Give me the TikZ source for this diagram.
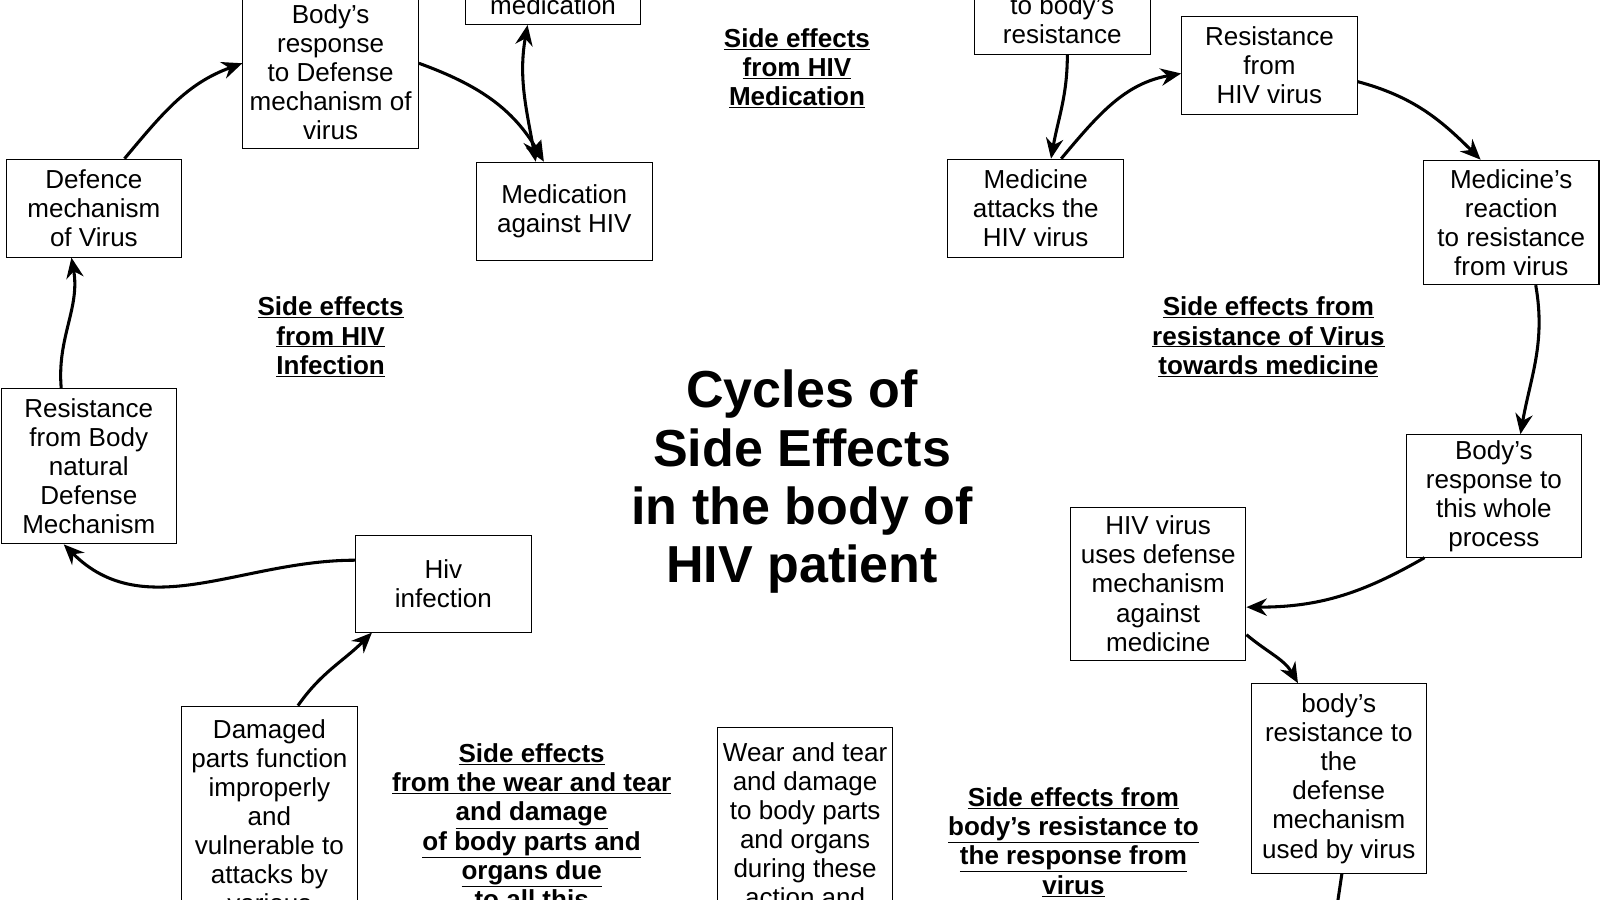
\documentclass[tikz,border=0pt]{standalone}
\usepackage{fontspec}
\setmainfont{Liberation Sans}
\usetikzlibrary{arrows.meta}
\begin{document}
\begin{tikzpicture}[x=1pt,y=-1pt,
 box/.style={draw,line width=1pt,minimum width=172pt,align=center,inner sep=0pt,font=\fontsize{25.5}{28.5}\selectfont},
 lab/.style={align=center,font=\bfseries\fontsize{25.5}{28.7}\selectfont},
 arr/.style={line width=3pt,-{Stealth[length=20pt,width=17pt]}}]
\useasboundingbox (0,0) rectangle (1568,882);
\clip (0,0) rectangle (1568,882);
\node[box,minimum height=150pt] (bresp) at (324,71) {Body's\\response\\to Defense\\mechanism of\\virus};
\node[box,minimum height=38pt] (med) at (542,5) {medication};
\node[box,minimum height=96pt] (medhiv) at (553,207) {Medication\\against HIV};
\node[box,minimum height=96pt] (def) at (92,204) {Defence\\mechanism\\of Virus};
\node[box,minimum height=152pt] (res) at (87,457) {Resistance\\from Body\\natural\\Defense\\Mechanism};
\node[box,minimum height=95pt] (hiv) at (434.5,572) {Hiv\\infection};
\node[box,minimum height=216pt] (dam) at (264,800) {Damaged\\parts function\\improperly\\and\\vulnerable to\\attacks by\\various};
\node[box,minimum height=190pt] (wear) at (789,808) {Wear and tear\\and damage\\to body parts\\and organs\\during these\\action and};
\node[box,minimum height=68pt] (tob) at (1041,19) {to body's\\resistance};
\node[box,minimum height=96pt] (reshiv) at (1244,64) {Resistance\\from\\HIV virus};
\node[box,minimum height=96pt] (matt) at (1015,204) {Medicine\\attacks the\\HIV virus};
\node[box,minimum height=122pt] (mreact) at (1481,218) {Medicine's\\reaction\\to resistance\\from virus};
\node[box,minimum height=120pt] (bproc) at (1464,486) {Body's\\response to\\this whole\\process};
\node[box,minimum height=150pt] (huses) at (1135,572) {HIV virus\\uses defense\\mechanism\\against\\medicine};
\node[box,minimum height=186pt] (bres) at (1312,763) {body's\\resistance to\\the\\defense\\mechanism\\used by virus};
\coordinate (off) at (1310,890);
\node[lab] (l1) at (781,67) {\underline{Side effects}\\\underline{from HIV}\\\underline{Medication}};
\node[lab] (l2) at (324,330) {\underline{Side effects}\\\underline{from HIV}\\\underline{Infection}};
\node[lab] (l3) at (1243,330) {\underline{Side effects from}\\\underline{resistance of Virus}\\\underline{towards medicine}};
\node[lab,anchor=north] (l4) at (521,725) {\underline{Side effects}\\\underline{from the wear and tear}\\\underline{and damage}\\\underline{of body parts and}\\\underline{organs due}\\\underline{to all this}};
\node[lab] (l5) at (1052,825) {\underline{Side effects from}\\\underline{body's resistance to}\\\underline{the response from}\\\underline{virus}};
\node[align=center,font=\bfseries\fontsize{51}{57}\selectfont] (title) at (786,472) {Cycles of\\Side Effects\\in the body of\\HIV patient};
% left cycle
\draw[arr] ([yshift=23pt]hiv.west) to[out=180,in=-45] ([xshift=62pt]res.south west);
\draw[arr] ([xshift=-27pt]res.north) to[out=95,in=-80] ([xshift=-22pt]def.south);
\draw[arr] ([xshift=30pt]def.north) to[out=50,in=200] ([yshift=9pt]bresp.west);
\draw[arr] ([yshift=9pt]bresp.east) to[out=-20,in=120] ([xshift=-20pt]medhiv.north);
\draw[arr,{Stealth[length=20pt,width=17pt]}-{Stealth[length=20pt,width=17pt]}] ([xshift=-25pt]med.south) to[out=-100,in=100] ([xshift=-28pt]medhiv.north);
\draw[arr] ([xshift=28pt]dam.north) to[out=55,in=-135] ([xshift=-70pt]hiv.south);
% right cycle
\draw[arr] ([xshift=5pt]tob.south) to[out=-90,in=80] ([xshift=15pt]matt.north);
\draw[arr] ([xshift=25pt]matt.north) to[out=50,in=190] ([yshift=-8pt]reshiv.west);
\draw[arr] ([yshift=-16pt]reshiv.east) to[out=-15,in=135] ([xshift=-30pt]mreact.north);
\draw[arr] ([xshift=24pt]mreact.south) to[out=-80,in=80] ([xshift=26pt]bproc.north);
\draw[arr] ([xshift=-68pt]bproc.south) to[out=-150,in=0] ([yshift=-23pt]huses.east);
\draw[arr] ([yshift=-50pt]huses.east) to[out=-40,in=120] ([xshift=-40pt]bres.north);
\draw[line width=3pt] ([xshift=3pt]bres.south) -- (off);
\end{tikzpicture}
\end{document}
